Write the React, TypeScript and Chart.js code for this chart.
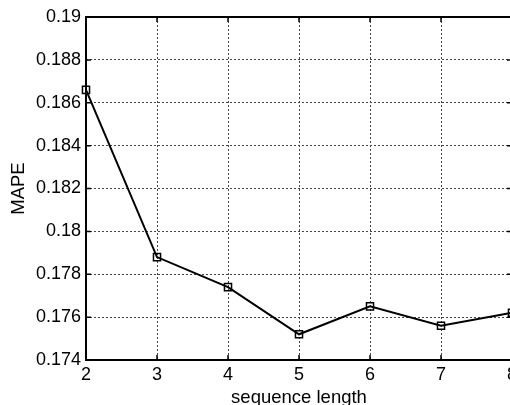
import React, { useEffect, useRef } from "react";
import { Chart, registerables } from "chart.js";

Chart.register(...registerables);

const sequenceLengths = [2, 3, 4, 5, 6, 7, 8];
const mapeValues = [0.1866, 0.1788, 0.1774, 0.1752, 0.1765, 0.1756, 0.1762];
const xTitle = "sequence length";
const yTitle = "MAPE";

const FONT = "'Liberation Sans', Arial, Helvetica, sans-serif";

const framePlugin = {
  id: "matlabFrame",
  beforeDatasetsDraw(chart: any) {
    const { ctx, chartArea } = chart;
    const { left, right, top, bottom } = chartArea;
    const xs = chart.scales.x;
    const ys = chart.scales.y;
    ctx.save();
    ctx.strokeStyle = "#000";
    ctx.lineWidth = 1.5;
    const tl = 5;
    ctx.beginPath();
    xs.ticks.forEach((t: any) => {
      const px = xs.getPixelForValue(t.value);
      ctx.moveTo(px, bottom);
      ctx.lineTo(px, bottom - tl);
      ctx.moveTo(px, top);
      ctx.lineTo(px, top + tl);
    });
    ys.ticks.forEach((t: any) => {
      const py = ys.getPixelForValue(t.value);
      ctx.moveTo(left, py);
      ctx.lineTo(left + tl, py);
      ctx.moveTo(right, py);
      ctx.lineTo(right - tl, py);
    });
    ctx.stroke();
    ctx.lineWidth = 2;
    ctx.strokeRect(left, top, right - left, bottom - top);
    ctx.restore();
  },
};

export default function App() {
  const ref = useRef<HTMLCanvasElement | null>(null);
  useEffect(() => {
    if (!ref.current) return;
    const chart = new Chart(ref.current, {
      type: "line",
      data: {
        datasets: [
          {
            data: sequenceLengths.map((x, i) => ({ x, y: mapeValues[i] })),
            borderColor: "#000",
            borderWidth: 2,
            pointStyle: "rect",
            pointRadius: 5,
            pointBorderWidth: 1.5,
            pointBorderColor: "#000",
            pointBackgroundColor: "rgba(0,0,0,0)",
            clip: false,
            tension: 0,
          } as any,
        ],
      },
      options: {
        animation: false,
        responsive: false,
        layout: { padding: { top: 17, right: 18, left: 0, bottom: 0 } },
        plugins: { legend: { display: false }, tooltip: { enabled: false } },
        scales: {
          x: {
            type: "linear",
            min: 2,
            max: 8,
            afterFit(scale: any) {
              scale.height = 60;
            },
            border: { display: false, dash: [2, 2] },
            grid: {
              color: "#444",
              lineWidth: 1,
              drawTicks: false,
            },
            ticks: {
              stepSize: 1,
              padding: 4,
              color: "#000",
              font: { family: FONT, size: 18 },
              callback: (v: any) => String(v),
            },
            title: {
              display: true,
              text: xTitle,
              color: "#000",
              font: { family: FONT, size: 18.5 },
              padding: { top: 0, bottom: 11 },
            },
          } as any,
          y: {
            type: "linear",
            min: 0.174,
            max: 0.19,
            afterFit(scale: any) {
              scale.width = 86;
            },
            border: { display: false, dash: [2, 2] },
            grid: {
              color: "#444",
              lineWidth: 1,
              drawTicks: false,
            },
            ticks: {
              stepSize: 0.002,
              padding: 5,
              color: "#000",
              font: { family: FONT, size: 18 },
              callback: (v: any) => String(parseFloat(Number(v).toFixed(3))),
            },
            title: {
              display: true,
              text: yTitle,
              color: "#000",
              font: { family: FONT, size: 18.5 },
              padding: { top: 8, bottom: 0 },
            },
          } as any,
        },
      },
      plugins: [framePlugin],
    });
    return () => chart.destroy();
  }, []);
  return (
    <div
      style={{
        position: "fixed",
        left: 0,
        top: 0,
        width: 510,
        height: 405,
        overflow: "hidden",
        background: "#fff",
      }}
    >
      <canvas ref={ref} width={530} height={420} style={{ display: "block" }} />
    </div>
  );
}
